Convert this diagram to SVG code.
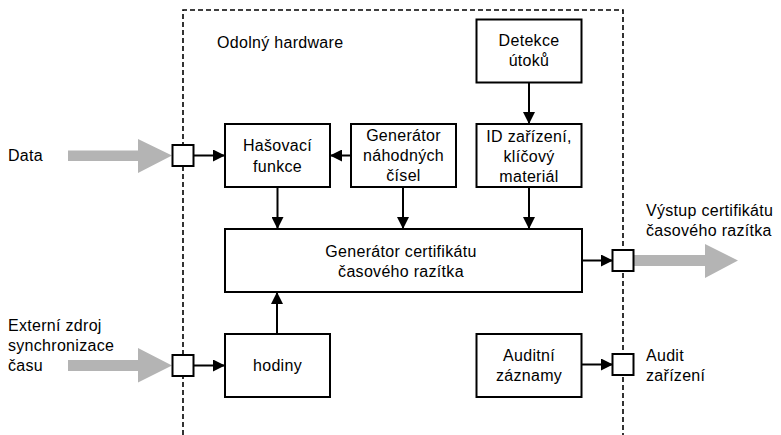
<svg xmlns="http://www.w3.org/2000/svg" width="781" height="435" viewBox="0 0 781 435">
<style>
text{font-family:"Liberation Sans",Arial,sans-serif;font-size:16px;letter-spacing:0.3px;fill:#000}
.c{text-anchor:middle}
.box{fill:#fff;stroke:#000;stroke-width:2}
.port{fill:#fff;stroke:#000;stroke-width:2}
.conn{stroke:#000;stroke-width:2;fill:none;marker-end:url(#ah)}
.big{fill:#b4b4b4;stroke:none}
</style>
<defs>
<marker id="ah" viewBox="0 0 12 12" refX="12" refY="6" markerWidth="12" markerHeight="12" markerUnits="userSpaceOnUse" orient="auto">
<path d="M0,0 L12,6 L0,12 Z" fill="#000"/>
</marker>
</defs>
<g id="boundary">
<path d="M183,435 V10 H623 V435" fill="none" stroke="#000" stroke-width="1.6" stroke-dasharray="5 3"/>
<text x="217" y="48">Odolný hardware</text>
</g>
<g id="connectors">
<path class="conn" d="M193,155.5 H225"/>
<path class="conn" d="M351,155.5 H330"/>
<path class="conn" d="M529,82 V124"/>
<path class="conn" d="M277.5,187 V229"/>
<path class="conn" d="M403,187 V229"/>
<path class="conn" d="M529,187 V229"/>
<path class="conn" d="M277,334 V292"/>
<path class="conn" d="M193,365.5 H225"/>
<path class="conn" d="M582,260.5 H613"/>
<path class="conn" d="M582,364.5 H613"/>
<path class="big" d="M68,150.5 H138 V139 L172,155.5 L138,173 V161 H68 Z"/>
<path class="big" d="M68,360 H138 V348 L172,365.5 L138,382.5 V371 H68 Z"/>
<path class="big" d="M634,255 H705 V244 L738,260.5 L705,278 V266 H634 Z"/>
</g>
<g id="data">
<text x="8" y="161">Data</text>
</g>
<g id="port-data"><rect class="port" x="172.5" y="145" width="21" height="21"/></g>
<g id="ext-time">
<text x="8" y="331">Externí zdroj</text>
<text x="8" y="351">synchronizace</text>
<text x="8" y="371">času</text>
</g>
<g id="port-time"><rect class="port" x="172.5" y="355" width="21" height="21"/></g>
<g id="hash">
<rect class="box" x="225" y="124" width="105" height="63"/>
<text class="c" x="277.5" y="151">Hašovací</text>
<text class="c" x="277.5" y="172">funkce</text>
</g>
<g id="rng">
<rect class="box" x="351" y="124" width="105" height="63"/>
<text class="c" x="403.5" y="141">Generátor</text>
<text class="c" x="403.5" y="161">náhodných</text>
<text class="c" x="403.5" y="181">čísel</text>
</g>
<g id="detect">
<rect class="box" x="476.5" y="19.5" width="105" height="63"/>
<text class="c" x="529" y="46">Detekce</text>
<text class="c" x="529" y="66">útoků</text>
</g>
<g id="keys">
<rect class="box" x="476.5" y="124" width="105" height="63"/>
<text class="c" x="529" y="142">ID zařízení,</text>
<text class="c" x="529" y="162">klíčový</text>
<text class="c" x="529" y="182">materiál</text>
</g>
<g id="tsgen">
<rect class="box" x="225" y="229" width="357" height="63"/>
<text class="c" x="401" y="257">Generátor certifikátu</text>
<text class="c" x="401" y="277">časového razítka</text>
</g>
<g id="clock">
<rect class="box" x="225" y="334" width="105" height="63"/>
<text class="c" x="277.5" y="371">hodiny</text>
</g>
<g id="audit">
<rect class="box" x="476.5" y="334" width="105" height="63"/>
<text class="c" x="529" y="361">Auditní</text>
<text class="c" x="529" y="381">záznamy</text>
</g>
<g id="port-out"><rect class="port" x="612.5" y="250" width="21" height="21"/></g>
<g id="port-audit"><rect class="port" x="612.5" y="354" width="21" height="21"/></g>
<g id="out-label">
<text x="646" y="216">Výstup certifikátu</text>
<text x="646" y="236">časového razítka</text>
</g>
<g id="audit-label">
<text x="646" y="361">Audit</text>
<text x="646" y="381">zařízení</text>
</g>
</svg>
